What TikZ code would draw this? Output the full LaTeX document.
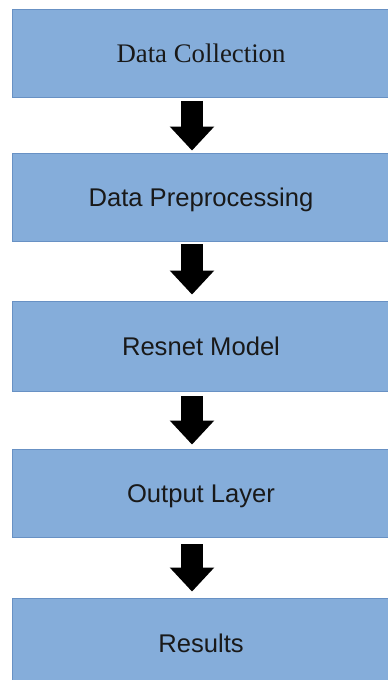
\documentclass[tikz,border=0pt]{standalone}
\usepackage{fontspec}
\setmainfont{Liberation Sans}
\newfontfamily\timesfont{Liberation Serif}
\usetikzlibrary{arrows.meta}
\definecolor{boxfill}{RGB}{133,173,218}
\definecolor{boxline}{RGB}{104,145,196}
\definecolor{txt}{RGB}{25,25,25}
\tikzset{
  stepbox/.style={draw=boxline, line width=0.9pt, fill=boxfill, rectangle,
    minimum width=378pt, inner sep=0pt, text=txt, text height=18.3pt, text depth=0pt,
    font=\fontsize{25.6}{30}\selectfont},
  bigarrow/.style={draw=black, line width=22pt,
    -{Triangle[width=43pt,length=24pt]}}
}
\begin{document}
\begin{tikzpicture}[x=1pt,y=-1pt]
\clip (0,0) rectangle (388,680);
\fill[white] (0,0) rectangle (388,680);
\node[stepbox, minimum height=88pt, text height=17.7pt, font=\timesfont\fontsize{26.8}{30}\selectfont] (b1) at (201,53.5) {Data Collection};
\node[stepbox, minimum height=88pt] (b2) at (201,197) {Data Preprocessing};
\node[stepbox, minimum height=90pt] (b3) at (201,346) {Resnet Model};
\node[stepbox, minimum height=88pt] (b4) at (201,493) {Output Layer};
\node[stepbox, minimum height=90pt] (b5) at (201,643) {Results};
\coordinate (ax) at (192,0);
\draw[bigarrow] ([yshift=-3pt]b1.south -| ax) -- ([yshift=2pt]b2.north -| ax);
\draw[bigarrow] ([yshift=-3pt]b2.south -| ax) -- ([yshift=6pt]b3.north -| ax);
\draw[bigarrow] ([yshift=-5pt]b3.south -| ax) -- ([yshift=4pt]b4.north -| ax);
\draw[bigarrow] ([yshift=-7pt]b4.south -| ax) -- ([yshift=6pt]b5.north -| ax);
\end{tikzpicture}
\end{document}
